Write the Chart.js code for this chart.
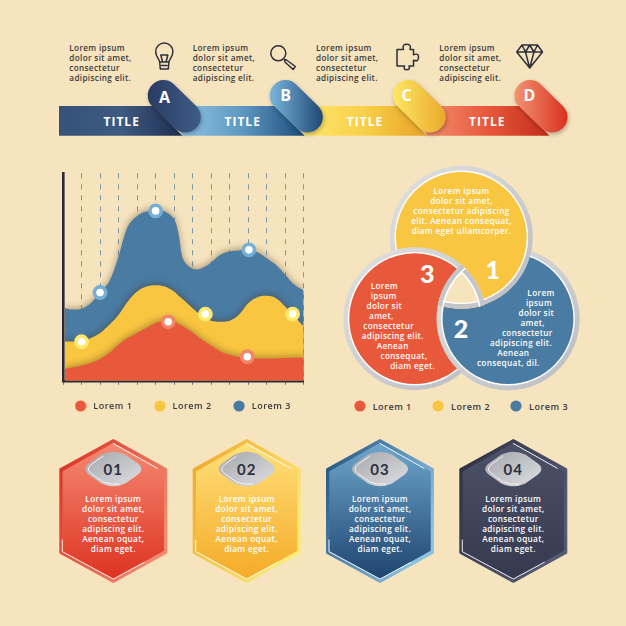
<!DOCTYPE html>
<html><head><meta charset="utf-8">
<script src="https://cdn.jsdelivr.net/npm/chart.js@4"></script>
<style>
html,body{margin:0;padding:0;background:#f6e4bf;}
#page{position:relative;width:626px;height:626px;overflow:hidden;background:#f6e4bf;}
#art{position:absolute;left:0;top:0;}
#plot{position:absolute;left:50px;top:160px;}
text{font-family:"Open Sans",sans-serif;}
.body{font-size:8.2px;font-weight:600;letter-spacing:.35px;text-anchor:middle;dominant-baseline:central;fill:#fff;}
.top{font-size:8.2px;font-weight:600;letter-spacing:.33px;dominant-baseline:central;fill:#3a3a3c;}
.ttl{font-size:12px;font-weight:700;letter-spacing:1px;text-anchor:middle;dominant-baseline:central;fill:#fff;}
.tag{font-size:16px;font-weight:700;text-anchor:middle;dominant-baseline:central;fill:#fff;}
.num{font-family:Lato,sans-serif;font-size:25px;font-weight:900;text-anchor:middle;dominant-baseline:central;fill:#fff;}
.hexn{font-family:Lato,sans-serif;font-size:15px;font-weight:700;letter-spacing:1px;text-anchor:middle;dominant-baseline:central;fill:#2e3040;}
.leg{font-size:9px;font-weight:600;letter-spacing:.5px;dominant-baseline:central;fill:#3a3a3c;}
</style></head>
<body><div id="page"><svg id="art" width="626" height="626" viewBox="0 0 626 626" xmlns="http://www.w3.org/2000/svg"></svg><canvas id="plot" width="320" height="263"></canvas></div>
<script>
// ---- chart data ----
const xTicks = [0,1,2,3,4,5,6,7,8,9,10,11,12,13];
const xSteps = [0.1,0.5,1,1.5,2,2.5,3,3.5,4,4.5,5,5.5,6,6.25,6.5,7,7.5,8,8.5,9,9.5,10,10.5,11,11.5,12,12.5,13];
const lorem1 = [36,40,45,53,65,83,108,128,143,158,173,181,178,170,163,145,123,105,88,78,71,68,67,67,67,68,69,70];
const lorem2 = [118,118,118,128,143,168,198,238,268,283,287,283,268,255,243,218,195,180,177,180,198,233,251,255,248,223,193,163];
const lorem3 = [218,214,216,233,265,298,373,463,495,508,513,508,485,438,363,336,338,355,378,388,391,393,386,368,348,318,288,271];
const seriesNames = ["Lorem 1","Lorem 2","Lorem 3"];
const markers1x = [5.68,9.95], markers1y = [177,72];
const markers2x = [1,7.69,12.4], markers2y = [117,200,200];
const markers3x = [2,5,10.04], markers3y = [265,510,393];
// ---- text content ----
const topText = ["Lorem ipsum","dolor sit amet,","consectetur","adipiscing elit."];
const titles = ["TITLE","TITLE","TITLE","TITLE"];
const tagLetters = ["A","B","C","D"];
const venn1 = ["Lorem ipsum","dolor sit amet,","consectetur adipiscing","elit. Aenean consequat,","diam eget ullamcorper."];
const venn3 = ["Lorem","ipsum","dolor sit","amet,","consectetur","adipiscing elit.","Aenean","consequat,","diam eget."];
const venn2 = ["Lorem","ipsum","dolor sit","amet,","consectetur","adipiscing elit.","Aenean","consequat, dil."];
const hexNums = ["01","02","03","04"];
const hexText = ["Lorem ipsum","dolor sit amet,","consectetur","adipiscing elit.","Aenean oquat,","diam eget."];
// ---- colours ----
const RED="#e8593c", YEL="#f8c640", BLU="#4a7ba3";

// ---- decorative layer ----
let s = '', defs = '';
function grad(id,x1,y1,x2,y2,stops,user){
  defs += `<linearGradient id="${id}" ${user?'gradientUnits="userSpaceOnUse"':''} x1="${x1}" y1="${y1}" x2="${x2}" y2="${y2}">`+
    stops.map((c,i)=>`<stop offset="${i/(stops.length-1)}" stop-color="${c}"/>`).join('')+`</linearGradient>`;
}
// ribbon
const rib = [
 {x0:59, tx:153, ex:182.4, cx:163.3, bar:["#35527a","#3e5a80","#1f2f52"], tg:["#2b3c62","#3d5c88"], tl:121.7, ltx:69.3, lx:164.5, ly:96.5},
 {x0:170,tx:275, ex:304.6, cx:285.3, bar:["#8ec3e2","#5d97c0","#1d4c7a"], tg:["#7ab4da","#1f4a76"], tl:242.7, ltx:192.7, lx:285.7, ly:95},
 {x0:292,tx:398, ex:427, cx:408.3, bar:["#fce76e","#f8cf48","#e7a227"], tg:["#fde764","#eaa92b"], tl:365, ltx:316, lx:406.7, ly:95},
 {x0:415,tx:520, ex:549.5, cx:530, bar:["#f38d6e","#e8573c","#c22c1a"], tg:["#f29272","#d8321f"], tl:487.3, ltx:439.3, lx:529.3, ly:95}
];
let rs='';
for(let i=3;i>=0;i--){const r=rib[i];
  grad('rb'+i,i?r.x0+12:r.x0,0,r.ex,0,r.bar,true);
  grad('rt'+i,r.cx-15,0,r.cx+37,0,r.tg,true);
  rs+=`<polygon points="${r.x0},106 ${r.tx},106 ${r.ex},135.7 ${i?r.x0+12:r.x0},135.7" fill="url(#rb${i})"/>`;
  rs+=`<line x1="${r.cx}" y1="95.5" x2="${r.cx+22}" y2="117" stroke="url(#rt${i})" stroke-width="31" stroke-linecap="round" style="filter:drop-shadow(1px 2px 2px rgba(0,0,0,.28))"/>`;
}
s+=rs;
rib.forEach((r,i)=>{
  s+=`<text class="ttl" x="${r.tl}" y="121">${titles[i]}</text>`;
  s+=`<text class="tag" x="${r.lx}" y="${r.ly}">${tagLetters[i]}</text>`;
  topText.forEach((t,j)=>{s+=`<text class="top" x="${r.ltx}" y="${47.7+j*10}">${t}</text>`;});
});
// icons
const ic='fill="none" stroke="#2d2f3a" stroke-width="1.5" stroke-linejoin="round" stroke-linecap="round"';
s+=`<g ${ic}><path d="M160.3 69h8l.6-7c.5-3 4-5 4-10.5a8.6 8.6 0 0 0-17.2 0c0 5.500 3.500 7.500 4 10.500z"/><path d="M160 62h8.600M161.500 65.500h5.600M160.800 55h7l-1.800 7h-3.400z"/></g>`;
s+=`<g ${ic}><circle cx="278.300" cy="53.300" r="7.500"/><path d="M284.500 59.500l2 .5 8.800 6.500-2.200 3-8.200-7.500z"/></g>`;
s+=`<path ${ic} d="M397 49.500h6.500c-1.500-4 .5-5.300 3.200-5.300s4.700 1.300 3.300 5.300h3.500v5.200c4-1.400 5-.2 5 2.600s-1 4.300-5 3v5.700h-4.500c1.200 3-.2 3.800-2.200 3.800s-3.400-.8-2.300-3.800h-7.500z"/>`;
s+=`<g ${ic}><path d="M522 45h15.500l5 7-12.800 16-13-16zM517 52h25.500M522 45l3.500 7 4.200 16 4.300-16 3.500-7M525.500 52l4.200-7 4.300 7"/></g>`;

// venn
const R0=71.5, R1=66.8, Ri=65.4;
const C={y:[461.3,237.3],b:[508,318.7],r:[414.700,318.700]};
grad('ring',0,0,1,1,["#e2e2de","#b9bcc2"]);
defs+=`<mask id="notY" maskUnits="userSpaceOnUse" x="0" y="0" width="626" height="626"><rect width="626" height="626" fill="#fff"/><circle cx="${C.y[0]}" cy="${C.y[1]}" r="${R0}" fill="#000"/></mask>`;
for(const k of ['y','b','r']) defs+=`<clipPath id="cp${k}"><circle cx="${C[k][0]}" cy="${C[k][1]}" r="${R0}"/></clipPath>`;
function disc(k,col){return `<circle cx="${C[k][0]}" cy="${C[k][1]}" r="${R0}" fill="url(#ring)"/><circle cx="${C[k][0]}" cy="${C[k][1]}" r="${R1}" fill="#fff"/><circle cx="${C[k][0]}" cy="${C[k][1]}" r="${Ri}" fill="${col}"/>`;}
function rim(k){const m=(R0+R1)/2;return `<circle cx="${C[k][0]}" cy="${C[k][1]}" r="${m}" fill="none" stroke="#c3c5c8" stroke-width="${R0-R1}"/><circle cx="${C[k][0]}" cy="${C[k][1]}" r="${(R1+Ri)/2}" fill="none" stroke="#fff" stroke-width="${R1-Ri}"/>`;}
s+=disc('b',BLU)+disc('y',YEL)+disc('r',RED);
s+=`<g mask="url(#notY)">${disc('b',BLU)}</g>`;
s+=`<g clip-path="url(#cpr)"><g clip-path="url(#cpy)"><g clip-path="url(#cpb)"><rect x="340" y="160" width="250" height="250" fill="#f6e4bf"/>${rim('y')}${rim('r')}${rim('b')}</g></g></g>`;
venn1.forEach((t,i)=>{s+=`<text class="body" x="461.5" y="${190.3+i*10}">${t}</text>`;});
const v3x=[384.3,383.7,384.3,381.3,388.7,392.7,392.7,404,412.7];
venn3.forEach((t,i)=>{s+=`<text class="body" x="${v3x[i]}" y="${285.3+i*10}">${t}</text>`;});
const v2x=[541,539,536.3,532.7,527.3,521,513.3,508.3];
venn2.forEach((t,i)=>{s+=`<text class="body" x="${v2x[i]}" y="${292.7+i*10}">${t}</text>`;});
s+=`<text class="num" x="492.700" y="269.300">1</text><text class="num" x="461" y="328.300">2</text><text class="num" x="427.300" y="273.300">3</text>`;
// venn legend
[[360,372.7,RED],[438,451,YEL],[516,529,BLU]].forEach((p,i)=>{
  s+=`<circle cx="${p[0]}" cy="406" r="5.600" fill="${p[2]}"/><text class="leg" x="${p[1]}" y="406">${seriesNames[i]}</text>`;
});

// hexagons
const hex=[
 {cx:113.3,edge:["#d8301f","#f08a70"],fill:["#f58a72","#de3322"]},
 {cx:246.7,edge:["#f0a526","#fdea78"],fill:["#fee07a","#f5ab28"]},
 {cx:380,edge:["#22527f","#8cc2e2"],fill:["#6ea6cc","#1f4570"]},
 {cx:513.3,edge:["#2b2e3f","#565b72"],fill:["#4c5168","#363a50"]}
];
function hexPath(c,w,h,d){const y=511;return `M${c} ${y-h}L${c+w} ${y-h+d}V${y+h-d}L${c} ${y+h}L${c-w} ${y+h-d}V${y-h+d}Z`;}
hex.forEach((h,i)=>{
  grad('he'+i,0,0,1,.6,h.edge); grad('hf'+i,0,0,0,1,h.fill); grad('pl'+i,0,0,1,1,["#a4a6ab","#dfdfe2"]);
  const c=h.cx;
  s+=`<path d="${hexPath(c,52.7,70.5,29)}" fill="url(#he${i})" stroke="url(#he${i})" stroke-width="2.600" stroke-linejoin="round"/>`;
  s+=`<path d="${hexPath(c,50.2,67.5,28)}" fill="url(#hf${i})" stroke="url(#hf${i})" stroke-width="1" stroke-linejoin="round"/>`;
  s+=`<path d="M${c} 443.500L${c+44} 468.300M${c-51} 540V551.700L${c} 579L${c+31} 562.300" fill="none" stroke="#fff" stroke-width="1" stroke-linecap="round" stroke-linejoin="round" opacity=".9"/>`;
  s+=`<path transform="translate(${c} 469)" d="M-28 0Q-28-3-24-6L-12-14.500Q0-20 12-14.500L24-6Q28-3 28 0Q28 3 24 6L12 14.500Q0 20-12 14.500L-24 6Q-28 3-28 0Z" fill="url(#pl${i})"/>`;
  s+=`<path transform="translate(${c} 469)" d="M-10-13L-22-4.500Q-25-2-25 0Q-25 2-22 4.500L-10 13Q-3 16 6 15" fill="none" stroke="#fff" stroke-width=".9" opacity=".85"/>`;
  s+=`<text class="hexn" x="${c}" y="469">${hexNums[i]}</text>`;
  hexText.forEach((t,j)=>{s+=`<text class="body" x="${c}" y="${498.3+j*10}">${t}</text>`;});
});
document.getElementById('art').innerHTML=`<defs>${defs}</defs>`+s;

// ---- Chart.js area chart ----
const dotIcon=(col)=>{const k=document.createElement('canvas');k.width=k.height=12;const g=k.getContext('2d');g.fillStyle=col;g.beginPath();g.arc(6,6,5.6,0,7);g.fill();return k;};
const pts=(xs,ys)=>ys.map((y,i)=>({x:xs[i],y}));
const area=(label,ys,color)=>({type:'line',label,data:pts(xSteps,ys),backgroundColor:color,borderColor:color,borderWidth:0,pointRadius:0,pointStyle:dotIcon(color),fill:'origin',tension:0.35,isArea:true});
const dots=(label,xs,ys,ring)=>({type:'line',label,data:pts(xs,ys),showLine:false,fill:false,pointRadius:5.6,pointBorderWidth:3.6,pointBackgroundColor:'#fff',pointBorderColor:ring,order:-1,hideLegend:true,clip:false});
const spacing={id:'spacing',
  beforeUpdate(c){c.ctx.letterSpacing='.5px';},
  beforeDraw(c){c.ctx.letterSpacing='.5px';},
  afterLayout(c){const l=c.legend;l.left=3.1;l.top=222.2;},
  beforeDatasetsDraw(c){const x=c.ctx;x.save();x.shadowColor='rgba(70,45,20,.42)';x.shadowBlur=7;x.shadowOffsetY=-1.5;},
  afterDatasetsDraw(c){c.ctx.restore();},
  beforeDatasetDraw(c,a){if(!c.data.datasets[a.index].isArea){c.ctx.shadowColor='transparent';}}
};
new Chart(document.getElementById('plot'),{
  type:'line',
  data:{datasets:[
    area(seriesNames[0],lorem1,RED),area(seriesNames[1],lorem2,YEL),area(seriesNames[2],lorem3,BLU),
    dots('m1',markers1x,markers1y,'#f28468'),dots('m2',markers2x,markers2y,'#fdea6c'),dots('m3',markers3x,markers3y,'#76afd5')
  ]},
  options:{responsive:false,animation:false,devicePixelRatio:1,
    layout:{padding:{left:0,right:0,top:13.3,bottom:0}},
    scales:{
      x:{type:'linear',min:0,max:13,afterBuildTicks(a){a.ticks=xTicks.map(v=>({value:v}));},
        ticks:{display:false},
        grid:{color:'#6f8ca3',lineWidth:.9,tickColor:'#5a7a98',tickLength:4,tickWidth:1},
        border:{color:'#2b2a38',width:2.4,dash:[5,6]}},
      y:{min:0,max:623,afterFit(a){a.width=13;},ticks:{display:false},grid:{display:false},border:{color:'#2b2a38',width:2.6}},
      yPad:{axis:'y',position:'right',min:0,max:1,afterFit(a){a.width=66.3;},ticks:{display:false},grid:{display:false},border:{display:false}}
    },
    plugins:{
      tooltip:{enabled:false},
      filler:{drawTime:'beforeDatasetDraw'},
      legend:{position:'bottom',align:'start',labels:{filter:(it,d)=>!d.datasets[it.datasetIndex].hideLegend,usePointStyle:true,pointStyleWidth:16.4,boxHeight:9,padding:19.3,color:'#3a3a3c',font:{family:'"Open Sans",sans-serif',size:9,weight:'600'}}}
    }
  },
  plugins:[spacing]
});
</script>
</body></html>
